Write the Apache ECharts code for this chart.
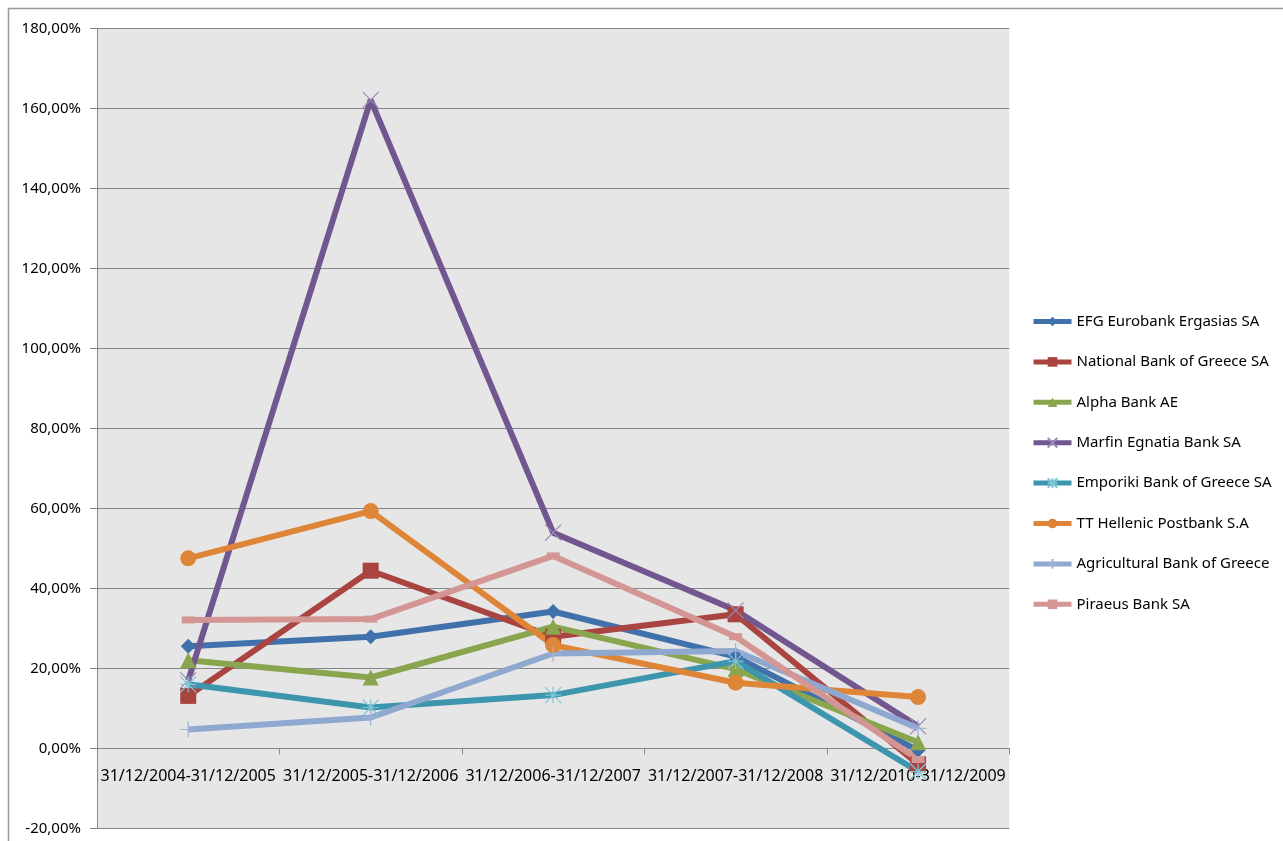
<!DOCTYPE html>
<html>
<head>
<meta charset="utf-8">
<script src="https://cdn.jsdelivr.net/npm/echarts@6/dist/echarts.min.js"></script>
<style>
  html, body { margin: 0; padding: 0; background: #ffffff; }
  #chart { width: 1283px; height: 841px; }
</style>
</head>
<body>
<div id="chart"></div>
<script>
const categories = [
  '31/12/2004-31/12/2005',
  '31/12/2005-31/12/2006',
  '31/12/2006-31/12/2007',
  '31/12/2007-31/12/2008',
  '31/12/2010-31/12/2009'
];
const seriesNames = [
  'EFG Eurobank Ergasias SA',
  'National Bank of Greece SA',
  'Alpha Bank AE',
  'Marfin Egnatia Bank SA',
  'Emporiki Bank of Greece SA',
  'TT Hellenic Postbank S.A',
  'Agricultural Bank of Greece',
  'Piraeus Bank SA'
];
const efg        = [25.5, 27.9, 34.2, 22.9, -0.5];
const national   = [13.1, 44.4, 27.9, 33.5, -4.0];
const alpha      = [22.0, 17.7, 30.4, 19.8, 1.5];
const marfin     = [17.0, 162.1, 53.9, 34.5, 5.5];
const emporiki   = [16.0, 10.2, 13.3, 21.8, -5.8];
const ttPostbank = [47.5, 59.3, 25.8, 16.4, 12.8];
const agricultural = [4.7, 7.7, 23.7, 24.3, 5.0];
const piraeus    = [32.1, 32.3, 48.1, 27.9, -2.8];
const yTicks = [-20, 0, 20, 40, 60, 80, 100, 120, 140, 160, 180];

const values = [efg, national, alpha, marfin, emporiki, ttPostbank, agricultural, piraeus];
const colors = ['#4171AB', '#AA4441', '#89A54E', '#71568F', '#3D96AE', '#DF8537', '#8FA8D0', '#D39694'];

const FONT = '"Noto Sans", "DejaVu Sans", sans-serif';

const symbolDefs = [
  { symbol: 'diamond', size: 15, style: {} },
  { symbol: 'rect', size: 16, style: {} },
  { symbol: 'triangle', size: 16, style: {} },
  { symbol: 'path://M0,0L10,10M10,0L0,10', size: 16, style: { color: 'none', borderColor: '#9A88BC', borderWidth: 1.2 } },
  { symbol: 'path://M0,0L10,10M10,0L0,10M5,0L5,10M0,5L10,5', size: 16, style: { color: 'none', borderColor: '#7FC5D8', borderWidth: 1.2 } },
  { symbol: 'circle', size: 16, style: {} },
  { symbol: 'path://M5,0L5,10M0,5L10,5', size: 16, style: { color: 'none', borderColor: '#9DB3DA', borderWidth: 1.2 } },
  { symbol: 'rect', size: [13, 7], style: {} }
];

const series = seriesNames.map((name, i) => ({
  name: name,
  type: 'line',
  data: values[i],
  symbol: symbolDefs[i].symbol,
  symbolSize: symbolDefs[i].size,
  showAllSymbol: true,
  lineStyle: { color: colors[i], width: 6 },
  itemStyle: Object.assign({ color: colors[i] }, symbolDefs[i].style),
  emphasis: { disabled: true },
  animation: false
}));

const chart = echarts.init(document.getElementById('chart'), null, { renderer: 'canvas' });
chart.setOption({
  backgroundColor: '#ffffff',
  animation: false,
  graphic: [{
    type: 'rect',
    shape: { x: 8.5, y: 8.5, width: 1300, height: 900 },
    style: { fill: 'none', stroke: '#999999', lineWidth: 1.5 },
    silent: true,
    z: -10
  }],
  grid: {
    left: 97, right: 273.7, top: 28.3, bottom: 12.7,
    containLabel: false,
    outerBoundsMode: 'none',
    show: true,
    backgroundColor: '#E6E6E6',
    borderWidth: 0
  },
  legend: {
    orient: 'vertical',
    left: 1031,
    top: 314,
    itemWidth: 38,
    itemHeight: 12,
    itemGap: 25.4,
    padding: 0,
    lineStyle: { width: 5 },
    textStyle: { fontFamily: FONT, fontSize: 15, color: '#000000' },
    data: seriesNames
  },
  xAxis: {
    type: 'category',
    data: categories,
    boundaryGap: true,
    position: 'bottom',
    offset: -80,
    axisLine: { show: true, onZero: false, lineStyle: { color: '#878787', width: 1 } },
    axisTick: { show: true, length: 6, inside: false, lineStyle: { color: '#878787' } },
    axisLabel: {
      interval: 0,
      hideOverlap: false,
      margin: 20,
      fontFamily: FONT,
      fontSize: 16,
      color: '#000000'
    },
    splitLine: { show: false }
  },
  yAxis: {
    type: 'value',
    min: yTicks[0],
    max: yTicks[yTicks.length - 1],
    interval: 20,
    axisLine: { show: true, lineStyle: { color: '#878787', width: 1 } },
    axisTick: { show: true, length: 7, lineStyle: { color: '#878787' } },
    axisLabel: {
      margin: 16,
      fontFamily: FONT,
      fontSize: 15,
      color: '#000000',
      formatter: v => v.toFixed(2).replace('.', ',') + '%'
    },
    splitLine: { show: true, lineStyle: { color: '#878787', width: 1 } }
  },
  series: series
});
</script>
</body>
</html>
